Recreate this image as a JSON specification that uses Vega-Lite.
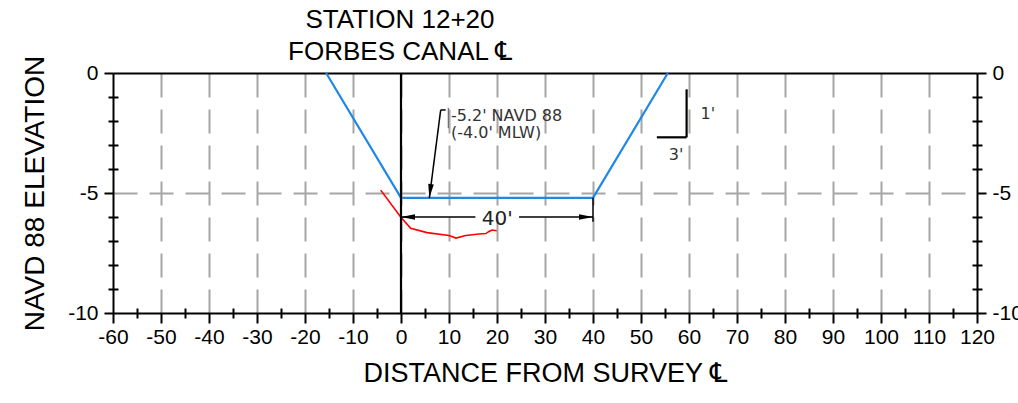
{
  "$schema": "https://vega.github.io/schema/vega-lite/v6.json",
  "width": 864,
  "height": 240,
  "autosize": "none",
  "padding": {"left": 113, "top": 73, "right": 41, "bottom": 90},
  "background": "white",
  "config": {"view": {"stroke": null}},
  "title": {
    "text": ["STATION 12+20", "FORBES CANAL ℄"],
    "font": "Liberation Sans, DejaVu Sans",
    "fontSize": 26,
    "fontWeight": "normal",
    "color": "black",
    "lineHeight": 32,
    "anchor": "middle",
    "frame": "group",
    "dx": -145,
    "dy": 14,
    "offset": 4
  },
  "datasets": {
    "design": [
      {"x": -15.6, "y": 0}, {"x": 0, "y": -5.2}, {"x": 40, "y": -5.2}, {"x": 55.6, "y": 0}
    ],
    "existing": [
      {"x": -4.23, "y": -4.88}, {"x": -0.06, "y": -6.0}, {"x": 2.02, "y": -6.47},
      {"x": 5.42, "y": -6.65}, {"x": 10.0, "y": -6.77}, {"x": 11.46, "y": -6.88},
      {"x": 13.48, "y": -6.77}, {"x": 16.25, "y": -6.71}, {"x": 17.7, "y": -6.69},
      {"x": 18.33, "y": -6.6}, {"x": 19.0, "y": -6.54}, {"x": 19.94, "y": -6.57}
    ],
    "heavy": [
      {"x": 0, "y": 0, "x2": 0, "y2": -10},
      {"x": 59.5, "y": -0.68, "x2": 59.5, "y2": -2.68},
      {"x": 53.3, "y": -2.68, "x2": 59.5, "y2": -2.68}
    ],
    "thin": [
      {"x": 0, "y": -6, "x2": 15.5, "y2": -6},
      {"x": 24.6, "y": -6, "x2": 40, "y2": -6},
      {"x": 40, "y": -5.2, "x2": 40, "y2": -6.2},
      {"x": 8.27, "y": -1.54, "x2": 5.9, "y2": -5.21},
      {"x": 8.27, "y": -1.54, "x2": 9.3, "y2": -1.54}
    ],
    "bar": [{"x": 9.85, "y": -1.45, "x2": 9.85, "y2": -2.3}],
    "arrowL": [{"x": 0, "y": -6}],
    "arrowR": [{"x": 40, "y": -6}],
    "arrowD": [{"x": 5.9, "y": -5.21}],
    "notes": [
      {"x": 10.4, "y": -2.0, "label": "-5.2' NAVD 88"},
      {"x": 10.4, "y": -2.7, "label": "(-4.0' MLW)"},
      {"x": 62.4, "y": -1.92, "label": "1'"},
      {"x": 55.8, "y": -3.63, "label": "3'"}
    ],
    "dim": [{"x": 20.07, "y": -6.33, "label": "40'"}]
  },
  "resolve": {"axis": {"x": "independent", "y": "independent"}},
  "layer": [
    {
      "data": {"name": "design"},
      "mark": {"type": "line", "color": "#1e88e5", "strokeWidth": 2.2},
      "encoding": {
        "x": {
          "field": "x", "type": "quantitative",
          "scale": {"domain": [-60, 120], "nice": false, "zero": false},
          "axis": {
            "orient": "bottom",
            "values": [-60,-55,-50,-45,-40,-35,-30,-25,-20,-15,-10,-5,0,5,10,15,20,25,30,35,40,45,50,55,60,65,70,75,80,85,90,95,100,105,110,115,120],
            "labelExpr": "datum.value % 10 === 0 ? '' + datum.value : ''",
            "tickSize": {"condition": {"test": "datum.value % 10 === 0", "value": 10}, "value": 5},
            "tickColor": "black", "tickWidth": 2,
            "domainColor": "black", "domainWidth": 2,
            "grid": true,
            "gridOpacity": {"condition": {"test": "datum.value % 10 === 0 && datum.value > -60 && datum.value < 120", "value": 1}, "value": 0},
            "gridColor": "#a6a6a6", "gridWidth": 2, "gridDash": [24, 12],
            "labelFont": "Liberation Sans", "labelFontSize": 21, "labelColor": "black",
            "labelPadding": 3, "labelFlush": false, "labelOverlap": false,
            "title": "DISTANCE FROM SURVEY ℄",
            "titleFont": "Liberation Sans, DejaVu Sans", "titleFontSize": 27,
            "titleFontWeight": "normal", "titleColor": "black", "titlePadding": 13
          }
        },
        "y": {
          "field": "y", "type": "quantitative",
          "scale": {"domain": [-10, 0], "nice": false, "zero": false},
          "axis": {
            "orient": "left",
            "values": [0,-1,-2,-3,-4,-5,-6,-7,-8,-9,-10],
            "labelExpr": "datum.value % 5 === 0 ? '' + datum.value : ''",
            "tickSize": {"condition": {"test": "datum.value % 5 === 0", "value": 9}, "value": 5},
            "tickColor": "black", "tickWidth": 2,
            "domainColor": "black", "domainWidth": 2,
            "grid": true,
            "gridOpacity": {"condition": {"test": "datum.value === -5", "value": 1}, "value": 0},
            "gridColor": "#a6a6a6", "gridWidth": 2, "gridDash": [24, 12],
            "labelFont": "Liberation Sans", "labelFontSize": 21, "labelColor": "black",
            "labelPadding": 6, "labelFlush": false, "labelOverlap": false,
            "title": "NAVD 88 ELEVATION",
            "titleFont": "Liberation Sans", "titleFontSize": 28,
            "titleFontWeight": "normal", "titleColor": "black", "titlePadding": 18
          }
        }
      }
    },
    {
      "data": {"name": "existing"},
      "mark": {"type": "line", "color": "#ff0000", "strokeWidth": 1.6},
      "encoding": {
        "x": {
          "field": "x", "type": "quantitative",
          "scale": {"domain": [-60, 120], "nice": false, "zero": false},
          "axis": {
            "orient": "bottom",
            "values": [-60,-55,-50,-45,-40,-35,-30,-25,-20,-15,-10,-5,0,5,10,15,20,25,30,35,40,45,50,55,60,65,70,75,80,85,90,95,100,105,110,115,120],
            "labels": false, "domain": false, "grid": false, "title": null,
            "tickColor": "black", "tickWidth": 2,
            "tickSize": {"condition": {"test": "datum.value % 10 === 0", "value": 0}, "value": -5}
          }
        },
        "y": {
          "field": "y", "type": "quantitative",
          "scale": {"domain": [-10, 0], "nice": false, "zero": false},
          "axis": {
            "orient": "right",
            "values": [0,-1,-2,-3,-4,-5,-6,-7,-8,-9,-10],
            "labelExpr": "datum.value % 5 === 0 ? '' + datum.value : ''",
            "tickSize": {"condition": {"test": "datum.value % 5 === 0", "value": 9}, "value": 5},
            "tickColor": "black", "tickWidth": 2,
            "domainColor": "black", "domainWidth": 2,
            "grid": false,
            "labelFont": "Liberation Sans", "labelFontSize": 21, "labelColor": "black",
            "labelPadding": 6, "labelFlush": false, "labelOverlap": false,
            "title": null
          }
        }
      }
    },
    {
      "data": {"name": "heavy"},
      "mark": {"type": "rule", "color": "black", "strokeWidth": 2.2},
      "encoding": {
        "x": {
          "field": "x", "type": "quantitative",
          "scale": {"domain": [-60, 120], "nice": false, "zero": false},
          "axis": {
            "orient": "top", "ticks": false, "labels": false, "grid": false, "title": null,
            "domainColor": "black", "domainWidth": 2
          }
        },
        "x2": {"field": "x2"},
        "y": {
          "field": "y", "type": "quantitative",
          "scale": {"domain": [-10, 0], "nice": false, "zero": false},
          "axis": {
            "orient": "left",
            "values": [0,-1,-2,-3,-4,-5,-6,-7,-8,-9,-10],
            "labels": false, "domain": false, "grid": false, "title": null,
            "tickColor": "black", "tickWidth": 2,
            "tickSize": {"condition": {"test": "datum.value % 5 === 0", "value": 0}, "value": -5}
          }
        },
        "y2": {"field": "y2"}
      }
    },
    {
      "data": {"name": "thin"},
      "mark": {"type": "rule", "color": "black", "strokeWidth": 1.5},
      "encoding": {
        "x": {"field": "x", "type": "quantitative", "scale": {"domain": [-60, 120], "nice": false, "zero": false}, "axis": null},
        "x2": {"field": "x2"},
        "y": {
          "field": "y", "type": "quantitative",
          "scale": {"domain": [-10, 0], "nice": false, "zero": false},
          "axis": {
            "orient": "right",
            "values": [0,-1,-2,-3,-4,-5,-6,-7,-8,-9,-10],
            "labels": false, "domain": false, "grid": false, "title": null,
            "tickColor": "black", "tickWidth": 2,
            "tickSize": {"condition": {"test": "datum.value % 5 === 0", "value": 0}, "value": -5}
          }
        },
        "y2": {"field": "y2"}
      }
    },
    {
      "data": {"name": "bar"},
      "mark": {"type": "rule", "color": "#555555", "strokeWidth": 1},
      "encoding": {
        "x": {"field": "x", "type": "quantitative", "axis": null},
        "x2": {"field": "x2"},
        "y": {"field": "y", "type": "quantitative", "axis": null},
        "y2": {"field": "y2"}
      }
    },
    {
      "data": {"name": "arrowL"},
      "mark": {"type": "point", "filled": true, "color": "black", "opacity": 1, "size": 784, "shape": "M0,0L-0.2,-1L0.2,-1Z", "angle": 90},
      "encoding": {
        "x": {"field": "x", "type": "quantitative", "axis": null},
        "y": {"field": "y", "type": "quantitative", "axis": null}
      }
    },
    {
      "data": {"name": "arrowR"},
      "mark": {"type": "point", "filled": true, "color": "black", "opacity": 1, "size": 784, "shape": "M0,0L-0.2,-1L0.2,-1Z", "angle": 270},
      "encoding": {
        "x": {"field": "x", "type": "quantitative", "axis": null},
        "y": {"field": "y", "type": "quantitative", "axis": null}
      }
    },
    {
      "data": {"name": "arrowD"},
      "mark": {"type": "point", "filled": true, "color": "black", "opacity": 1, "size": 784, "shape": "M0,0L-0.2,-1L0.2,-1Z", "angle": 7},
      "encoding": {
        "x": {"field": "x", "type": "quantitative", "axis": null},
        "y": {"field": "y", "type": "quantitative", "axis": null}
      }
    },
    {
      "data": {"name": "notes"},
      "mark": {"type": "text", "font": "DejaVu Sans", "fontSize": 16, "color": "#333333", "align": "left", "baseline": "alphabetic"},
      "encoding": {
        "x": {"field": "x", "type": "quantitative", "axis": null},
        "y": {"field": "y", "type": "quantitative", "axis": null},
        "text": {"field": "label"}
      }
    },
    {
      "data": {"name": "dim"},
      "mark": {"type": "text", "font": "DejaVu Sans", "fontSize": 20, "color": "#222222", "align": "center", "baseline": "alphabetic"},
      "encoding": {
        "x": {"field": "x", "type": "quantitative", "axis": null},
        "y": {"field": "y", "type": "quantitative", "axis": null},
        "text": {"field": "label"}
      }
    }
  ]
}
